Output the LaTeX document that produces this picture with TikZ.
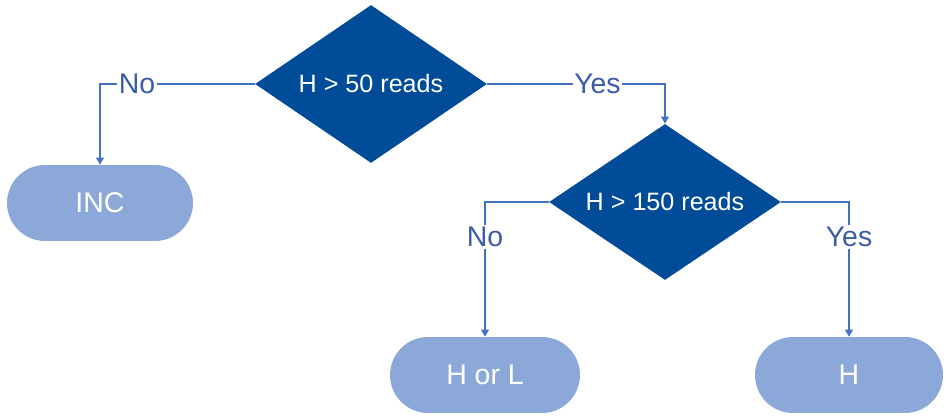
\documentclass[tikz,border=0pt]{standalone}
\usepackage{fontspec}
\setmainfont{Liberation Sans}
\usetikzlibrary{shapes.geometric,arrows.meta}
\definecolor{dblue}{RGB}{0,76,153}
\definecolor{lblue}{RGB}{139,168,216}
\definecolor{lnblue}{RGB}{68,114,196}
\definecolor{txblue}{RGB}{60,92,170}
\tikzset{
  test/.style={diamond,aspect=1.47,fill=dblue,text=white,inner sep=0pt,
    minimum width=4.64cm,minimum height=3.16cm},
  leaf/.style={rectangle,rounded corners=0.76cm,fill=lblue,text=white,
    minimum height=1.52cm,font=\fontsize{16.2}{19}\selectfont},
  line/.style={draw=lnblue,line width=0.7pt,-{Triangle[length=4pt,width=4.5pt]}},
  lab/.style={fill=white,text=txblue,inner sep=1pt,font=\fontsize{16.2}{19}\selectfont}
}

\begin{document}
\begin{tikzpicture}[x=0.02cm,y=-0.02cm,font=\fontsize{14.3}{17}\selectfont]
  \useasboundingbox (0,0) rectangle (950,418);

  \node[test] (d1) at (371,84) {H > 50 reads};
  \node[test,minimum height=3.12cm] (d2) at (665,202) {H > 150 reads};
  \node[leaf,minimum width=3.72cm] (inc) at (100,203) {INC};
  \node[leaf,minimum width=3.8cm] (hl) at (485,375) {H or L};
  \node[leaf,minimum width=3.76cm] (h) at (849,375) {H};

  \draw[line] (d1.west) -| node[lab,pos=0.38] {No} (inc.north);
  \draw[line] (d1.east) -| node[lab,pos=0.31] {Yes} (d2.north);
  \draw[line] (d2.west) -| node[lab,pos=0.63] {No} (hl.north);
  \draw[line] (d2.east) -| node[lab,pos=0.63] {Yes} (h.north);
\end{tikzpicture}
\end{document}
